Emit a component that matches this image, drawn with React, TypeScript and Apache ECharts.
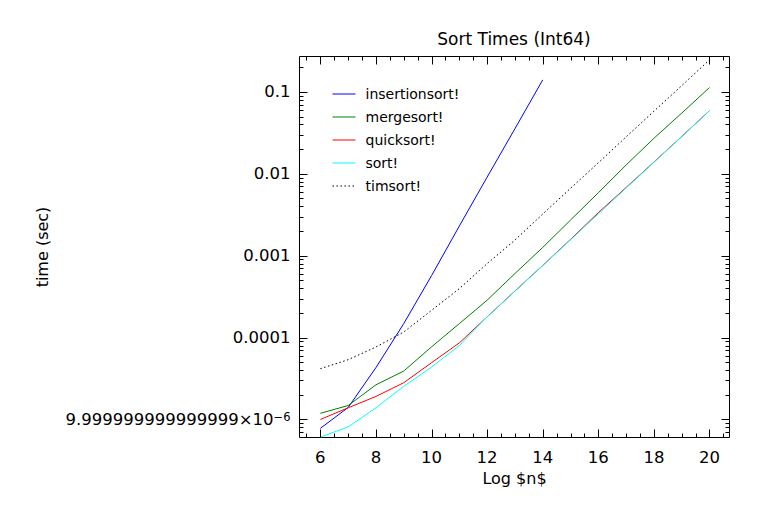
import React, { useEffect, useRef } from 'react';
import * as echarts from 'echarts';

// ---- data ----
const logN = [6, 7, 8, 9, 10, 11, 12, 13, 14, 15, 16, 17, 18, 19, 20];
const insertionN = [6, 7, 8, 9, 10, 11, 12, 13, 14];
const insertionsort = [7.8e-6, 1.4e-5, 4.3e-5, 1.48e-4, 5.7e-4, 2.3e-3, 9.1e-3, 3.55e-2, 0.14];
const mergesort = [1.19e-5, 1.48e-5, 2.65e-5, 3.9e-5, 7.7e-5, 1.48e-4, 2.86e-4, 6.05e-4, 1.26e-3, 2.72e-3, 5.86e-3, 1.28e-2, 2.71e-2, 5.5e-2, 0.113];
const quicksort = [1.0e-5, 1.39e-5, 1.91e-5, 2.81e-5, 4.93e-5, 8.6e-5, 1.79e-4, 3.7e-4, 7.6e-4, 1.58e-3, 3.35e-3, 6.8e-3, 1.39e-2, 2.85e-2, 5.9e-2];
const sortVals = [6.1e-6, 8.1e-6, 1.39e-5, 2.54e-5, 4.36e-5, 8.0e-5, 1.79e-4, 3.68e-4, 7.58e-4, 1.56e-3, 3.24e-3, 6.7e-3, 1.38e-2, 2.84e-2, 5.9e-2];
const timsort = [4.17e-5, 5.37e-5, 7.67e-5, 1.17e-4, 2.15e-4, 3.96e-4, 8.0e-4, 1.55e-3, 3.22e-3, 6.64e-3, 1.36e-2, 2.82e-2, 5.8e-2, 0.119, 0.246];

const seriesNames = ['insertionsort!', 'mergesort!', 'quicksort!', 'sort!', 'timsort!'];
const seriesColors = ['#0000ff', '#008000', '#ff0000', '#00ffff', '#000000'];

// axis ticks / labels
const xTickLabels = [6, 8, 10, 12, 14, 16, 18, 20];
const xMinorTicks = [5.5, 6.5, 7, 7.5, 8.5, 9, 9.5, 10.5, 11, 11.5, 12.5, 13, 13.5, 14.5, 15, 15.5, 16.5, 17, 17.5, 18.5, 19, 19.5, 20.5];
const yTickValues = [1e-5, 1e-4, 1e-3, 1e-2, 1e-1];
const yTickLabels = ['9.999999999999999×10{sup|−6}', '0.0001', '0.001', '0.01', '0.1'];
const yMinorTicks = [
  7e-6, 8e-6, 9e-6,
  2e-5, 3e-5, 4e-5, 5e-5, 6e-5, 7e-5, 8e-5, 9e-5,
  2e-4, 3e-4, 4e-4, 5e-4, 6e-4, 7e-4, 8e-4, 9e-4,
  2e-3, 3e-3, 4e-3, 5e-3, 6e-3, 7e-3, 8e-3, 9e-3,
  2e-2, 3e-2, 4e-2, 5e-2, 6e-2, 7e-2, 8e-2, 9e-2,
  2e-1,
];

const X_MIN = 5.25;
const X_MAX = 20.72;
const Y_MIN = Math.pow(10, -5.22);
const Y_MAX = Math.pow(10, -0.568);

const FONT = 'DejaVu Sans';

export default function App() {
  const ref = useRef<HTMLDivElement>(null);

  useEffect(() => {
    if (!ref.current) return;
    const chart = echarts.init(ref.current, null, { renderer: 'svg' });

    const tickStyle = { stroke: '#000', lineWidth: 1 };

    const xTickData = [
      ...xMinorTicks.map((v) => [v, 1e-3, 0]),
      ...xTickLabels.map((v) => [v, 1e-3, 1]),
    ];
    const yTickData = [
      ...yMinorTicks.map((v) => [10, v, 0]),
      ...yTickValues.map((v) => [10, v, 1]),
    ];

    const lineSeries = [
      { name: seriesNames[0], xs: insertionN, ys: insertionsort },
      { name: seriesNames[1], xs: logN, ys: mergesort },
      { name: seriesNames[2], xs: logN, ys: quicksort },
      { name: seriesNames[3], xs: logN, ys: sortVals },
      { name: seriesNames[4], xs: logN, ys: timsort },
    ].map((s, i) => ({
      type: 'line',
      name: s.name,
      data: s.xs.map((x, j) => [x, s.ys[j]]),
      symbol: 'none',
      showSymbol: false,
      color: seriesColors[i],
      lineStyle: {
        color: seriesColors[i],
        width: 1,
        type: i === 4 ? [1.5, 2.5] : 'solid',
      },
      emphasis: { disabled: true },
      z: 2,
    }));

    chart.setOption({
      animation: false,
      textStyle: { fontFamily: FONT },
      title: {
        text: 'Sort Times (Int64)',
        left: 514,
        top: 30,
        padding: 0,
        textAlign: 'center',
        textStyle: { fontFamily: FONT, fontSize: 17, fontWeight: 'normal', color: '#000' },
      },
      legend: {
        data: seriesNames,
        orient: 'vertical',
        left: 332,
        top: 87,
        padding: 0,
        itemWidth: 23,
        itemHeight: 14,
        itemGap: 9,
        selectedMode: false,
        itemStyle: { opacity: 0 },
        lineStyle: { width: 1 },
        textStyle: { fontFamily: FONT, fontSize: 14, color: '#000', padding: [0, 0, 0, 5] },
      },
      grid: {
        left: 299.5,
        right: 38.5,
        top: 56.5,
        bottom: 74.5,
        show: true,
        borderColor: '#000',
        borderWidth: 1,
        backgroundColor: 'transparent',
        outerBoundsMode: 'none',
      },
      xAxis: {
        type: 'value',
        min: X_MIN,
        max: X_MAX,
        splitNumber: 8,
        name: 'Log $n$',
        nameLocation: 'middle',
        nameGap: 33,
        nameTextStyle: { fontFamily: FONT, fontSize: 16, color: '#000' },
        axisLine: { show: false },
        axisTick: { show: false },
        splitLine: { show: false },
        axisLabel: {
          margin: 11,
          fontFamily: FONT,
          fontSize: 16.5,
          color: '#000',
          formatter: (v: number) => {
            const hit = xTickLabels.find((t) => Math.abs(t - v) < 1e-6);
            return hit === undefined ? '' : String(hit);
          },
        },
      },
      yAxis: {
        type: 'log',
        min: Y_MIN,
        max: Y_MAX,
        name: 'time (sec)',
        nameLocation: 'middle',
        nameGap: 249,
        nameTextStyle: { fontFamily: FONT, fontSize: 16, color: '#000' },
        axisLine: { show: false },
        axisTick: { show: false },
        splitLine: { show: false },
        minorTick: { show: false },
        axisLabel: {
          margin: 9,
          fontFamily: FONT,
          fontSize: 16.5,
          color: '#000',
          rich: {
            sup: { fontFamily: FONT, fontSize: 11.5, color: '#000', verticalAlign: 'top', lineHeight: 16 },
          },
          formatter: (v: number) => {
            const lv = Math.log10(v);
            const idx = yTickValues.findIndex((t) => Math.abs(Math.log10(t) - lv) < 1e-6);
            return idx < 0 ? '' : yTickLabels[idx];
          },
        },
      },
      series: [
        ...lineSeries,
        {
          type: 'custom',
          silent: true,
          data: xTickData,
          z: 3,
          renderItem: (params: any, api: any) => {
            const cs = params.coordSys;
            const x = Math.round(api.coord([api.value(0), api.value(1)])[0]) + 0.5;
            const len = api.value(2) === 1 ? 8 : 4;
            const bottom = cs.y + cs.height;
            const top = cs.y;
            return {
              type: 'group',
              children: [
                { type: 'line', shape: { x1: x, y1: bottom, x2: x, y2: bottom - len }, style: tickStyle },
                { type: 'line', shape: { x1: x, y1: top, x2: x, y2: top + len }, style: tickStyle },
              ],
            };
          },
        },
        {
          type: 'custom',
          silent: true,
          data: yTickData,
          z: 3,
          renderItem: (params: any, api: any) => {
            const cs = params.coordSys;
            const y = Math.round(api.coord([api.value(0), api.value(1)])[1]) + 0.5;
            const len = api.value(2) === 1 ? 8 : 4;
            const left = cs.x;
            const right = cs.x + cs.width;
            return {
              type: 'group',
              children: [
                { type: 'line', shape: { x1: left, y1: y, x2: left + len, y2: y }, style: tickStyle },
                { type: 'line', shape: { x1: right, y1: y, x2: right - len, y2: y }, style: tickStyle },
              ],
            };
          },
        },
      ],
    });

    return () => chart.dispose();
  }, []);

  return <div ref={ref} style={{ width: 768, height: 512, position: 'absolute', left: 0, top: 0 }} />;
}
